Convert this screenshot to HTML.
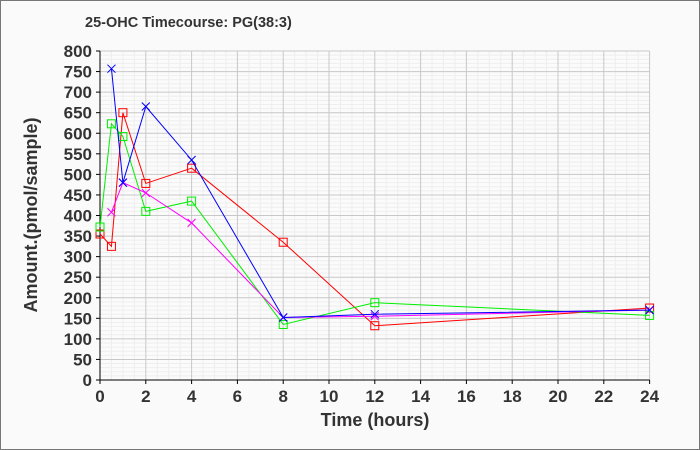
<!DOCTYPE html>
<html><head><meta charset="utf-8"><style>
html,body{margin:0;padding:0;background:#fff}
svg{display:block}
text{font-family:"Liberation Sans",Arial,sans-serif;font-weight:bold;fill:#333}
</style></head><body>
<svg id="c" width="700" height="450" xmlns="http://www.w3.org/2000/svg"></svg>
<script>
const X0=100,SX=22.9,Y0=380,SY=0.41125;
const X=h=>X0+h*SX, Y=v=>Y0-v*SY;
let s='<rect x="0.5" y="0.5" width="699" height="449" fill="#fafafa" stroke="#777"/>';
s+='<rect x="100" y="'+Y(800)+'" width="'+(X(24)-100)+'" height="'+(Y0-Y(800))+'" fill="#fbfbfb"/>';
for(let h=0.5;h<24;h+=0.5){if(h%2)s+=`<line x1="${X(h)}" x2="${X(h)}" y1="${Y(800)}" y2="${Y0}" stroke="#eeeeee"/>`;}
for(let v=10;v<800;v+=10){if(v%50)s+=`<line x1="100" x2="${X(24)}" y1="${Y(v)}" y2="${Y(v)}" stroke="#eeeeee"/>`;}
for(let h=2;h<=24;h+=2)s+=`<line x1="${X(h)}" x2="${X(h)}" y1="${Y(800)}" y2="${Y0}" stroke="#c8c8c8"/>`;
for(let v=50;v<=800;v+=50)s+=`<line x1="100" x2="${X(24)}" y1="${Y(v)}" y2="${Y(v)}" stroke="#c8c8c8"/>`;
s+=`<line x1="100" x2="100" y1="${Y(800)}" y2="${Y0}" stroke="#000"/><line x1="100" x2="${X(24)}" y1="${Y0}" y2="${Y0}" stroke="#000"/>`;
for(let v=0;v<=800;v+=50){s+=`<line x1="96" x2="100" y1="${Y(v)}" y2="${Y(v)}" stroke="#000"/><text x="92" y="${Y(v)+6}" font-size="17" text-anchor="end">${v}</text>`;}
for(let h=0;h<=24;h+=2){s+=`<line x1="${X(h)}" x2="${X(h)}" y1="380" y2="384" stroke="#000"/><text x="${X(h)}" y="402" font-size="17" text-anchor="middle">${h}</text>`;}
s+='<text x="85" y="27" font-size="14.5">25-OHC Timecourse: PG(38:3)</text>';
s+='<text x="375" y="426" font-size="18" text-anchor="middle">Time (hours)</text>';
s+='<text transform="translate(37,215) rotate(-90)" font-size="18" text-anchor="middle">Amount.(pmol/sample)</text>';
const ser=[
 ['#ff0000','sq',[[0,355],[0.5,325],[1,650],[2,478],[4,515],[8,335],[12,132],[24,175]]],
 ['#00ee00','sq',[[0,372],[0.5,623],[1,592],[2,410],[4,435],[8,135],[12,188],[24,157]]],
 ['#ff00ff','x',[[0.5,408],[1,480],[2,455],[4,382],[8,152],[12,155],[24,170]]],
 ['#0000ff','x',[[0.5,757],[1,480],[2,665],[4,535],[8,152],[12,160],[24,170]]]];
for(const [c,m,d] of ser){
 s+=`<polyline fill="none" stroke="${c}" stroke-width="1" points="${d.map(p=>X(p[0])+','+Y(p[1])).join(' ')}"/>`;
 for(const p of d){const x=X(p[0]),y=Y(p[1]);
  if(m=='sq')s+=`<rect x="${x-4}" y="${y-4}" width="8" height="8" fill="none" stroke="${c}"/>`;
  else s+=`<path d="M${x-4} ${y-4}L${x+4} ${y+4}M${x-4} ${y+4}L${x+4} ${y-4}" stroke="${c}"/>`;}
}
document.getElementById('c').innerHTML=s;
</script>
</body></html>
